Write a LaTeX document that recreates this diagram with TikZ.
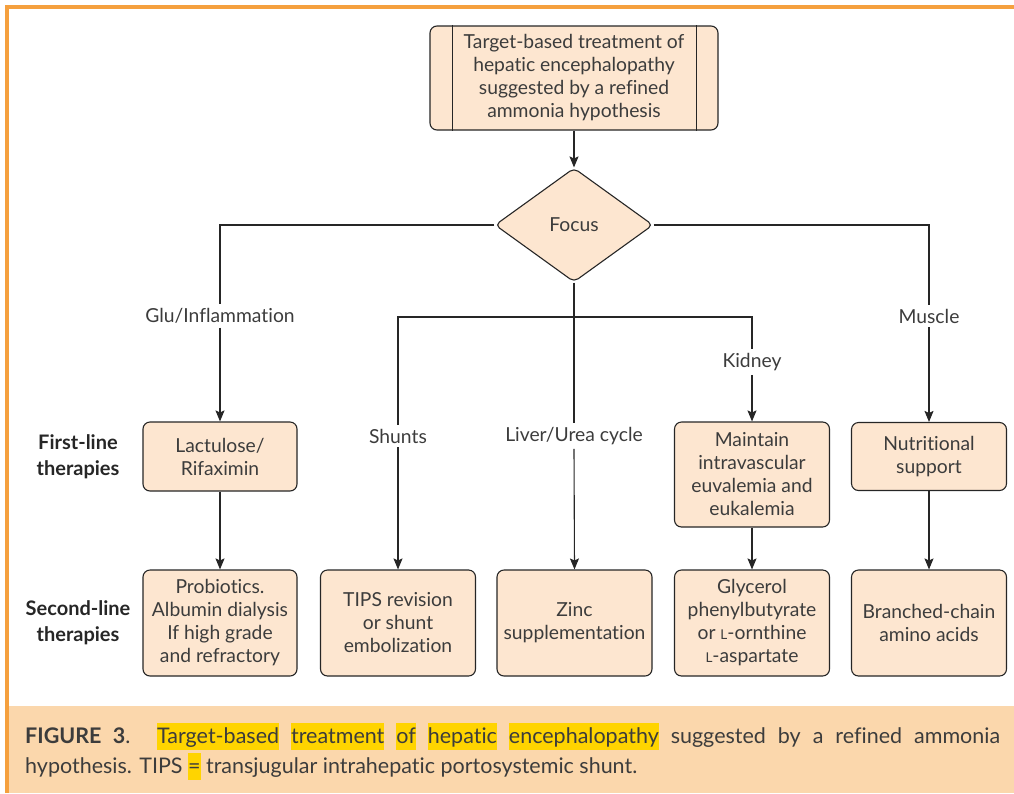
\documentclass[tikz,border=0pt]{standalone}
\usepackage{fontspec}
\setmainfont{Lato}[Ligatures=NoCommon]
\usetikzlibrary{shapes.geometric,arrows.meta}
\definecolor{boxfill}{HTML}{FDE6D0}
\definecolor{capfill}{HTML}{FBD7AC}
\definecolor{frameorange}{HTML}{F5A03E}
\definecolor{hlyellow}{HTML}{FFD400}
\definecolor{inkgray}{HTML}{3C3C3C}
\newcommand\hlword[1]{{\setlength{\fboxsep}{0pt}\colorbox{hlyellow}{\vrule height 0.95em depth 0.28em width 0pt #1}}}
\newcommand\smallL{{\fontsize{13.5}{13.5}\selectfont L}}

\begin{document}
\begin{tikzpicture}[x=1pt,y=-1pt]
    \tikzstyle{box}=[draw=black!85,line width=1.1pt,fill=boxfill,rounded corners=7pt,align=center,text=inkgray,inner sep=2pt]
    \tikzstyle{branch}=[text=inkgray,inner sep=4pt]
    \tikzstyle{rowlabel}=[align=center,font=\fontsize{20}{26}\bfseries,text=black!85]
    \tikzstyle{every node}=[font=\fontsize{19.3}{23}\selectfont]
    \tikzstyle{link}=[line width=1.1pt,draw=black!85]
    \tikzstyle{arrow}=[link,-{Stealth[length=11pt,width=9pt,inset=2pt]}]
    \useasboundingbox (0,0) rectangle (1014,793);
    % frame and caption
    \fill[capfill] (9,706) rectangle (1014,793);
    \draw[frameorange,line width=3.5pt] (7,793) -- (7,7) -- (1014,7);
    \node[anchor=north west,inner sep=0pt,text=inkgray] (caption) at (25,723)
      {\parbox{975pt}{\fontsize{21.5}{30}\selectfont
      {\bfseries FIGURE 3}. \hlword{Target-based} \hlword{treatment} \hlword{of} \hlword{hepatic} \hlword{encephalopathy} suggested by a refined ammonia\linebreak
      hypothesis. TIPS \hlword{=} transjugular intrahepatic portosystemic shunt.}};
    % top
    \node[box,minimum width=288pt,minimum height=104pt] (top) at (574,78)
      {Target-based treatment of\\hepatic encephalopathy\\suggested by a refined\\ammonia hypothesis};
    \draw[link] ([xshift=23pt]top.north west) -- ([xshift=23pt]top.south west);
    \draw[link] ([xshift=-22pt]top.north east) -- ([xshift=-22pt]top.south east);
    \node[box,diamond,aspect=1.39,minimum width=158pt,minimum height=114pt,inner sep=0pt,rounded corners=5pt] (focus) at (574,225) {Focus};
    % branch labels
    \node[branch] (glu) at (220,316) {Glu/Inflammation};
    \node[branch] (shunts) at (398,436) {Shunts};
    \node[branch] (liver) at (574,436) {Liver/Urea cycle};
    \node[branch] (kidney) at (752,362) {Kidney};
    \node[branch] (muscle) at (929,316) {Muscle};
    \coordinate (split) at (574,317);
    % first line
    \node[box,minimum width=154pt,minimum height=69pt] (lact) at (220,456.5) {Lactulose/\\Rifaximin};
    \node[box,minimum width=155pt,minimum height=105pt] (maint) at (752,474.5) {Maintain\\intravascular\\euvalemia and\\eukalemia};
    \node[box,minimum width=155pt,minimum height=68pt] (nutr) at (929,456.5) {Nutritional\\support};
    % second line
    \node[box,minimum width=154pt,minimum height=106pt] (prob) at (220,623) {Probiotics.\\Albumin dialysis\\If high grade\\and refractory};
    \node[box,minimum width=155pt,minimum height=106pt] (tips) at (398,623) {TIPS revision\\or shunt\\embolization};
    \node[box,minimum width=155pt,minimum height=106pt] (zinc) at (574.5,623) {Zinc\\supplementation};
    \node[box,minimum width=155pt,minimum height=106pt] (glyc) at (752,623) {Glycerol\\phenylbutyrate\\or \smallL-ornthine\\\smallL-aspartate};
    \node[box,minimum width=155pt,minimum height=106pt] (bcaa) at (929,623) {Branched-chain\\amino acids};
    \node[rowlabel] (first) at (78,457) {First-line\\therapies};
    \node[rowlabel] (second) at (78,623) {Second-line\\therapies};
    % connectors
    \draw[arrow] (top) -- (focus);
    \draw[link] (focus.west) -| (glu.north);
    \draw[arrow] (glu.south) -- (lact.north);
    \draw[link] (focus.east) -| (muscle.north);
    \draw[arrow] (muscle.south) -- (nutr.north);
    \draw[link] (focus.south) -- (liver.north);
    \draw[arrow] (liver.south) -- (zinc.north);
    \draw[link] (shunts.north) |- (split) -| (kidney.north);
    \draw[arrow] (shunts.south) -- (tips.north);
    \draw[arrow] (kidney.south) -- (maint.north);
    \draw[arrow] (lact) -- (prob);
    \draw[arrow] (maint) -- (glyc);
    \draw[arrow] (nutr) -- (bcaa);
\end{tikzpicture}
\end{document}
